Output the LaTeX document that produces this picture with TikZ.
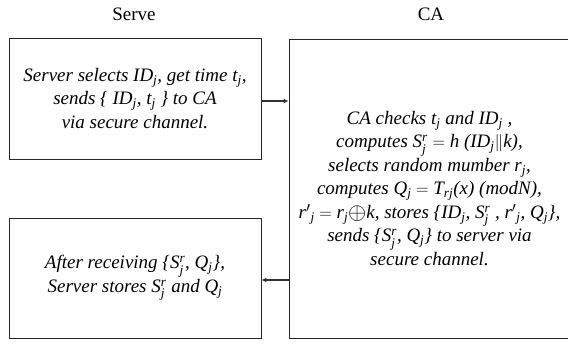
\documentclass[tikz,border=0pt]{standalone}
\usepackage{amsmath}
\usepackage{graphicx}
\usepackage{fontspec}
\setmainfont{Liberation Serif}
\usetikzlibrary{arrows.meta}
\newcommand{\sj}{\ensuremath{_{\textit{j}}}}
\newcommand{\Srj}{S\ensuremath{^{\textit{r}}_{\textit{j}}}}
\begin{document}
\begin{tikzpicture}[x=1pt,y=1pt,
  boxst/.style={draw=black!85,line width=0.9pt,inner sep=0pt,align=center,
    font=\fontsize{19}{23.5}\selectfont\itshape},
  titlest/.style={font=\fontsize{19}{22}\selectfont},
  arr/.style={draw=black!80,line width=1.2pt,-{Latex[length=5pt,width=5pt]}}]
\useasboundingbox (0,0) rectangle (568,-344);
\node[titlest] (t1) at (134,-14) {Serve};
\node[titlest] (t2) at (431,-14) {CA};
\node[boxst,minimum width=252,minimum height=121] (b1) at (135,-98.5)
 {Server selects ID\sj, get time t\sj,\\
  sends \{ ID\sj, t\sj\ \} to CA\\
  via secure channel.};
\node[boxst,minimum width=252,minimum height=120] (b2) at (135,-278)
 {After receiving \{\Srj, Q\sj\},\\
  Server stores \Srj\ and Q\sj};
\node[boxst,minimum width=281,minimum height=299] (ca) at (429.5,-188.5)
 {CA checks t\sj\ and ID\sj\ ,\\
  computes \Srj\ $=$ h (ID\sj$\|$k),\\
  selects random mumber r\sj,\\
  computes Q\sj\ $=$ T\ensuremath{_{\textit{rj}}}(x) (modN),\\
  r$'$\sj\ $=$ r\sj\raisebox{-0.15ex}{\scalebox{1.35}{$\oplus$}}k, stores \{ID\sj, \Srj\ , r$'$\sj, Q\sj\},\\
  sends \{\Srj, Q\sj\} to server via\\
  secure channel.};
\draw[arr] ([yshift=-2.5]b1.east) -- ([yshift=-2.5]b1.east -| ca.west);
\draw[arr] ([yshift=-2]b2.east -| ca.west) -- ([yshift=-2]b2.east);
\end{tikzpicture}
\end{document}
